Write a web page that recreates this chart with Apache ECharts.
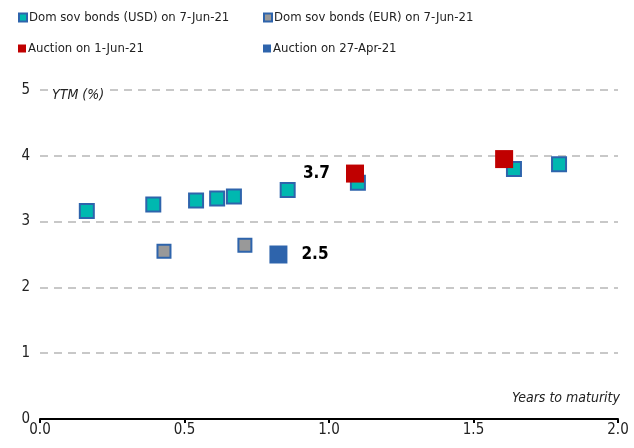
<!DOCTYPE html>
<html>
<head>
<meta charset="utf-8">
<script src="https://cdn.jsdelivr.net/npm/echarts@6/dist/echarts.min.js"></script>
<style>
  html, body { margin: 0; padding: 0; background: #fff; }
  #chart { width: 634px; height: 448px; }
</style>
</head>
<body>
<div id="chart"></div>
<script>
// values: [years to maturity, YTM %]
var usdBonds = [
  [0.162, 3.16], [0.392, 3.26], [0.54, 3.32], [0.613, 3.35], [0.671, 3.38],
  [0.857, 3.48], [1.10, 3.59], [1.64, 3.80], [1.796, 3.87]
];
var eurBonds = [[0.429, 2.55], [0.709, 2.64]];
var auctionJun = [[1.09, 3.73], [1.606, 3.95]];
var auctionApr = [[0.825, 2.50]];
var juneLabels = ["3.7", ""];
var aprilLabels = ["2.5"];

var names = [
  "Dom sov bonds (USD) on 7-Jun-21",
  "Dom sov bonds (EUR) on 7-Jun-21",
  "Auction on 1-Jun-21",
  "Auction on 27-Apr-21"
];

var font = "'DejaVu Sans Condensed', 'Liberation Sans', sans-serif";
var chart = echarts.init(document.getElementById("chart"));

function legend(name, left, top) {
  return {
    data: [name], left: left, top: top, icon: "rect",
    itemWidth: 8, itemHeight: 8, itemGap: 0, padding: 0,
    textStyle: { fontFamily: font, fontSize: 13, color: "#222", padding: [0, 0, 0, -3] },
    selectedMode: false
  };
}

chart.setOption({
  animation: false,
  textStyle: { fontFamily: font },
  legend: [
    legend(names[0], 18, 11),
    legend(names[1], 263, 11),
    legend(names[2], 18, 42),
    legend(names[3], 263, 42)
  ],
  grid: { left: 40, right: 16, top: 90, bottom: 29 },
  xAxis: {
    type: "value", min: 0, max: 2, interval: 0.5,
    axisLine: { show: true, lineStyle: { color: "#000", width: 2 } },
    axisTick: { show: true, length: 4, lineStyle: { color: "#000", width: 2 } },
    axisLabel: {
      color: "#222", fontSize: 15, margin: 4,
      formatter: function (v) { return v.toFixed(1); }
    },
    splitLine: { show: false }
  },
  yAxis: {
    type: "value", min: 0, max: 5, interval: 1,
    axisLine: { show: false }, axisTick: { show: false },
    axisLabel: { color: "#222", fontSize: 15, margin: 10 },
    splitLine: { lineStyle: { color: "#c8c8c8", width: 2, type: [8, 6] } }
  },
  graphic: [
    {
      type: "text", left: 50, top: 88, z: 10,
      style: {
        text: "YTM (%)", font: "italic 14px " + font, fill: "#222",
        backgroundColor: "#fff", padding: [0, 4, 0, 2]
      }
    },
    {
      type: "text", right: 14, top: 391, z: 10,
      style: { text: "Years to maturity", font: "italic 14px " + font, fill: "#222" }
    }
  ],
  series: [
    {
      name: names[0], type: "scatter", symbol: "rect", symbolSize: 14,
      itemStyle: { color: "#00b8b0", borderColor: "#2e64ac", borderWidth: 2, opacity: 1 },
      data: usdBonds
    },
    {
      name: names[1], type: "scatter", symbol: "rect", symbolSize: 13,
      itemStyle: { color: "#999999", borderColor: "#2e64ac", borderWidth: 2, opacity: 1 },
      data: eurBonds
    },
    {
      name: names[2], type: "scatter", symbol: "rect", symbolSize: 18, z: 3,
      itemStyle: { color: "#c00000", opacity: 1 },
      label: {
        show: true, position: "left", distance: 16,
        fontSize: 17, fontWeight: "bold", color: "#000",
        formatter: function (p) { return juneLabels[p.dataIndex]; }
      },
      data: auctionJun
    },
    {
      name: names[3], type: "scatter", symbol: "rect", symbolSize: 18, z: 3,
      itemStyle: { color: "#2e64ac", opacity: 1 },
      label: {
        show: true, position: "right", distance: 14,
        fontSize: 17, fontWeight: "bold", color: "#000",
        formatter: function (p) { return aprilLabels[p.dataIndex]; }
      },
      data: auctionApr
    }
  ]
});
</script>
</body>
</html>
